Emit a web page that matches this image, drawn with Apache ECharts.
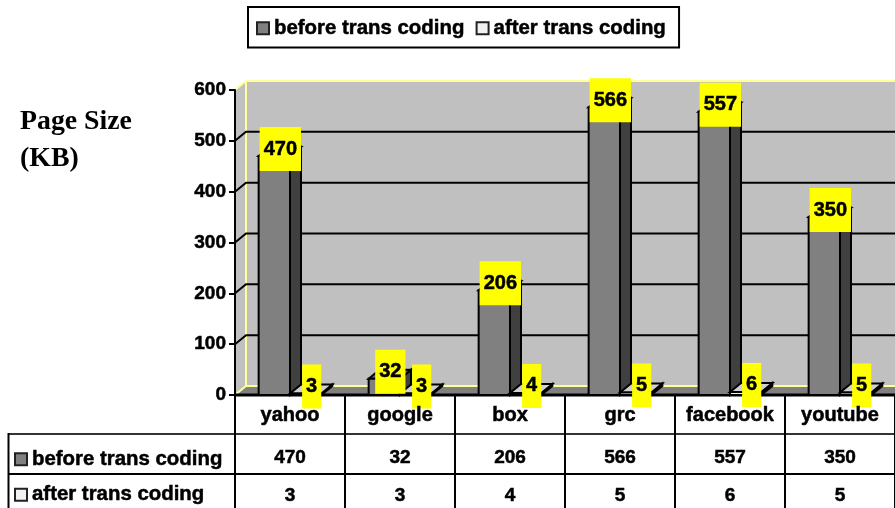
<!DOCTYPE html>
<html>
<head>
<meta charset="utf-8">
<style>
  html, body { margin: 0; padding: 0; background: #fff; }
  #chart { width: 895px; height: 508px; }
</style>
<script src="https://cdn.jsdelivr.net/npm/echarts@6/dist/echarts.min.js"></script>
</head>
<body>
<div id="chart"></div>
<script>
const categories = ["yahoo", "google", "box", "grc", "facebook", "youtube"];
const beforeValues = [470, 32, 206, 566, 557, 350];
const afterValues = [3, 3, 4, 5, 6, 5];
const gridTicks = [100, 200, 300, 400, 500];

const FONT = "Liberation Sans";
const DEPTH_X = 11;
const DEPTH_Y = 9;
const lineStyle = { stroke: "#000", lineWidth: 2 };
// the reference text is heavier than plain bold
const heavy = { textBorderColor: "#000", textBorderWidth: 0.5 };

const chart = echarts.init(document.getElementById("chart"));

// back wall, side wall and floor of the fake 3d box
function renderWalls(params, api) {
  const rect = params.coordSys;
  const left = rect.x;
  const right = rect.x + rect.width;
  const top = rect.y;
  const bottom = rect.y + rect.height;
  const poly = (points, fill) => ({ type: "polygon", shape: { points }, style: { fill } });
  const line = (x1, y1, x2, y2, stroke, lineWidth) => ({
    type: "line",
    shape: { x1, y1, x2, y2 },
    style: { stroke, lineWidth }
  });
  return {
    type: "group",
    children: [
      poly([[left + DEPTH_X, top - DEPTH_Y], [right, top - DEPTH_Y], [right, bottom - DEPTH_Y], [left + DEPTH_X, bottom - DEPTH_Y]], "#c0c0c0"),
      poly([[left, top], [left + DEPTH_X, top - DEPTH_Y], [left + DEPTH_X, bottom - DEPTH_Y], [left, bottom]], "#c0c0c0"),
      poly([[left, bottom], [left + DEPTH_X, bottom - DEPTH_Y], [right, bottom - DEPTH_Y], [right, bottom]], "#808080"),
      line(left, top, left + DEPTH_X, top - DEPTH_Y, "#ffff99", 2),
      line(left + DEPTH_X, top - DEPTH_Y, right, top - DEPTH_Y, "#ffff99", 2),
      line(left + DEPTH_X, top - DEPTH_Y, left + DEPTH_X, bottom - DEPTH_Y, "#ffff99", 2),
      line(left + DEPTH_X, bottom - DEPTH_Y, right, bottom - DEPTH_Y, "#ffff99", 2),
      line(left, bottom, left + DEPTH_X, bottom - DEPTH_Y, "#ffff99", 2),
      line(left - 1, bottom, right, bottom, "#000", 3)
    ]
  };
}

function renderGridLine(params, api) {
  const rect = params.coordSys;
  const p = api.coord([0, api.value(0)]);
  return {
    type: "polyline",
    shape: { points: [[rect.x, p[1]], [rect.x + DEPTH_X, p[1] - DEPTH_Y], [rect.x + rect.width, p[1] - DEPTH_Y]] },
    style: { stroke: "#000", lineWidth: 2, fill: null }
  };
}

// one 3d column, side = -1 sits left of the category centre, 1 right of it
function columnRenderer(side, frontColor, topColor, sideColor) {
  return function (params, api) {
    const top = api.coord([api.value(0), api.value(1)]);
    const base = api.coord([api.value(0), 0]);
    const w = api.size([1, 0])[0] * 0.285;
    const x0 = side < 0 ? top[0] - w : top[0];
    const x1 = x0 + w;
    const y0 = top[1];
    const y1 = base[1];
    return {
      type: "group",
      children: [
        { type: "polygon", shape: { points: [[x1, y0], [x1 + DEPTH_X, y0 - DEPTH_Y], [x1 + DEPTH_X, y1 - DEPTH_Y], [x1, y1]] }, style: { fill: sideColor, ...lineStyle } },
        { type: "polygon", shape: { points: [[x0, y0], [x0 + DEPTH_X, y0 - DEPTH_Y], [x1 + DEPTH_X, y0 - DEPTH_Y], [x1, y0]] }, style: { fill: topColor, ...lineStyle } },
        { type: "rect", shape: { x: x0, y: y0, width: w, height: y1 - y0 }, style: { fill: frontColor, ...lineStyle } },
        {
          type: "text",
          z2: 100,
          style: {
            x: x0 + w / 2 + 6,
            y: y0 - 7,
            text: String(api.value(1)),
            align: "center",
            verticalAlign: "middle",
            font: "bold 20px '" + FONT + "'",
            fill: "#000",
            stroke: "#000",
            lineWidth: 0.5,
            backgroundColor: "#ffff00",
            padding: [9, 4, 15, 4]
          }
        }
      ]
    };
  };
}

const legendBase = {
  selectedMode: false,
  icon: "rect",
  itemWidth: 12,
  itemHeight: 12,
  data: ["before trans coding", "after trans coding"],
  textStyle: { fontFamily: FONT, fontWeight: "bold", fontSize: 20.4, color: "#000", ...heavy }
};

const tableAxis = (data, offset, margin, showTick) => ({
  type: "category",
  data,
  position: "bottom",
  offset,
  z: 5,
  axisLine: { show: offset > 0, onZero: false, lineStyle: { color: offset === 39 ? "#333" : "#000", width: 2 } },
  axisTick: { show: showTick, length: 114, lineStyle: { color: "#000", width: 2 } },
  axisLabel: {
    margin,
    interval: 0,
    fontFamily: FONT,
    fontWeight: "bold",
    fontSize: showTick ? 20 : 19,
    color: "#000",
    ...heavy
  },
  splitLine: { show: false }
});

chart.setOption({
  animation: false,
  backgroundColor: "#fff",
  title: {
    text: "Page Size\n(KB)",
    left: 15,
    top: 98,
    textStyle: { fontFamily: "Liberation Serif", fontWeight: "bold", fontSize: 27.8, lineHeight: 37, color: "#000" }
  },
  legend: [
    {
      ...legendBase,
      left: 248,
      top: 7,
      orient: "horizontal",
      itemGap: 11,
      padding: [11, 13, 9, 8],
      backgroundColor: "#fff",
      borderColor: "#000",
      borderWidth: 2
    },
    {
      ...legendBase,
      left: 14,
      top: 449,
      orient: "vertical",
      itemGap: 15,
      padding: 0
    }
  ],
  grid: { left: 235, right: 0, top: 90, bottom: 113 },
  xAxis: [
    tableAxis(categories, 0, 10, true),
    tableAxis(beforeValues.map(String), 39, 14, false),
    tableAxis(afterValues.map(String), 79, 12, false)
  ],
  yAxis: {
    type: "value",
    min: 0,
    max: 600,
    interval: 100,
    z: 5,
    axisLine: { show: true, lineStyle: { color: "#000", width: 2 } },
    axisTick: { show: true, length: 6, lineStyle: { color: "#000", width: 2 } },
    axisLabel: { margin: 9, fontFamily: FONT, fontWeight: "bold", fontSize: 19, color: "#000", ...heavy },
    splitLine: { show: false }
  },
  graphic: [
    { type: "line", shape: { x1: 8, y1: 434, x2: 235, y2: 434 }, style: { stroke: "#333", lineWidth: 2 } },
    { type: "line", shape: { x1: 8, y1: 474, x2: 235, y2: 474 }, style: { stroke: "#000", lineWidth: 2 } },
    { type: "line", shape: { x1: 8.5, y1: 433, x2: 8.5, y2: 508 }, style: { stroke: "#000", lineWidth: 2 } }
  ],
  series: [
    { type: "custom", name: "walls", z: 1, silent: true, data: [0], renderItem: renderWalls },
    { type: "custom", name: "grid lines", z: 1, silent: true, data: gridTicks.map((t) => [t]), encode: { y: 0 }, renderItem: renderGridLine },
    {
      type: "custom",
      name: "before trans coding",
      z: 2,
      itemStyle: { color: "#808080", borderColor: "#222", borderWidth: 1.5 },
      data: beforeValues.map((v, i) => [i, v]),
      encode: { x: 0, y: 1 },
      renderItem: columnRenderer(-1, "#808080", "#666666", "#404040")
    },
    {
      type: "custom",
      name: "after trans coding",
      z: 2,
      itemStyle: { color: "#f2f2f2", borderColor: "#222", borderWidth: 1.5 },
      data: afterValues.map((v, i) => [i, v]),
      encode: { x: 0, y: 1 },
      renderItem: columnRenderer(1, "#f2f2f2", "#d0d0d0", "#000000")
    }
  ]
});
</script>
</body>
</html>
